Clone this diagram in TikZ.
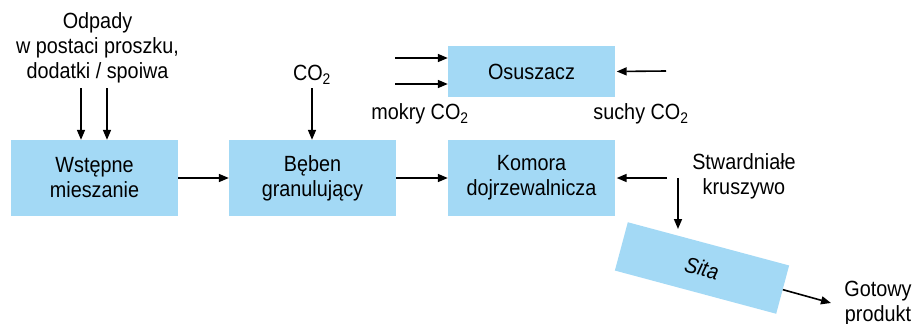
\documentclass[tikz,border=0pt]{standalone}
\usepackage{fontspec}
\setmainfont{Liberation Sans}[FakeStretch=0.9]
\usetikzlibrary{arrows.meta}
\definecolor{boxblue}{RGB}{163,217,245}
\begin{document}
\begin{tikzpicture}[x=1pt,y=-1pt,
  box/.style={fill=boxblue, draw=none, minimum width=167pt, minimum height=76pt, align=center, inner sep=0pt},
  lbl/.style={align=center, inner sep=0pt},
  arr/.style={line width=1.6pt, -{Triangle[length=10pt,width=8pt]}},
  every node/.style={font=\fontsize{22}{25}\selectfont}]
\useasboundingbox (0,0) rectangle (916,324);
% boxes
\node[box] (mix) at (94.5,178) {Wstępne\\mieszanie};
\node[box] (drum) at (312.5,178) {Bęben\\granulujący};
\node[box] (kom) at (531.5,178) {Komora\\dojrzewalnicza};
\node[box, minimum height=51pt] (osu) at (531.5,71.5) {Osuszacz};
\node[box, minimum height=50pt, rotate=-15] (sita) at (702,268) {\itshape Sita};
% labels
\node[lbl] (odp) at (97.5,48) {Odpady\\w postaci proszku,\\dodatki / spoiwa};
\node[lbl] (co2) at (312,75) {CO\textsubscript{2}};
\node[lbl] (mok) at (420,114) {mokry CO\textsubscript{2}};
\node[lbl] (such) at (641,114) {suchy CO\textsubscript{2}};
\node[lbl] (stw) at (744,176) {Stwardniałe\\kruszywo};
\node[lbl] (got) at (878,304) {Gotowy\\produkt};
% free ends
\coordinate (o1) at (81,88);
\coordinate (o2) at (107,88);
\coordinate (c1) at (312,88);
\coordinate (m1) at (395,58);
\coordinate (m2) at (395,84);
\coordinate (s1) at (666,71);
\coordinate (k1) at (667,178);
\coordinate (k2) at (678,178);
\coordinate (k3) at (678,229);
\coordinate (g1) at (831,303);
% arrows
\draw[arr] (o1) -- (o1 |- mix.north);
\draw[arr] (o2) -- (o2 |- mix.north);
\draw[arr] (c1) -- (c1 |- drum.north);
\draw[arr] (mix.east) -- (drum.west);
\draw[arr] (drum.east) -- (kom.west);
\draw[arr] (m1) -- (m1 -| osu.west);
\draw[arr] (m2) -- (m2 -| osu.west);
\draw[arr, shorten >=1.5pt] (s1) -- (osu.east);
\draw[arr, shorten >=1.5pt] (k1) -- (kom.east);
\draw[arr] (k2) -- (k3);
\draw[arr] (sita.east) -- (g1);
\end{tikzpicture}
\end{document}
